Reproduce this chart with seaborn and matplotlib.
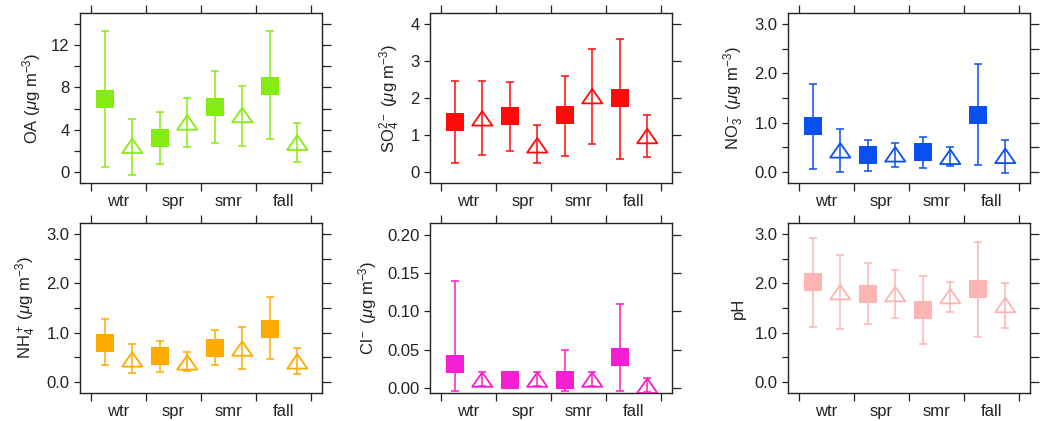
import numpy as np
import pandas as pd
import seaborn as sns
import matplotlib
matplotlib.use("Agg")
import matplotlib.pyplot as plt
from matplotlib.path import Path
from matplotlib.ticker import MultipleLocator, FormatStrFormatter, FixedLocator, NullFormatter, FixedFormatter

seasons = ["wtr", "spr", "smr", "fall"]

# filled squares: mean, upper, lower
oa_sq = [6.9, 3.2, 6.2, 8.1]
oa_sq_hi = [13.35, 5.7, 9.55, 13.3]
oa_sq_lo = [0.5, 0.8, 2.8, 3.1]
# open triangles
oa_tr = [2.5, 4.7, 5.4, 2.8]
oa_tr_hi = [5.0, 7.0, 8.1, 4.65]
oa_tr_lo = [-0.25, 2.4, 2.5, 1.0]

so4_sq = [1.34, 1.51, 1.53, 1.99]
so4_sq_hi = [2.46, 2.44, 2.6, 3.6]
so4_sq_lo = [0.23, 0.57, 0.44, 0.34]
so4_tr = [1.45, 0.72, 2.05, 0.97]
so4_tr_hi = [2.46, 1.26, 3.33, 1.55]
so4_tr_lo = [0.45, 0.23, 0.76, 0.4]

no3_sq = [0.94, 0.34, 0.40, 1.16]
no3_sq_hi = [1.78, 0.65, 0.72, 2.19]
no3_sq_lo = [0.07, 0.03, 0.09, 0.14]
no3_tr = [0.44, 0.36, 0.31, 0.33]
no3_tr_hi = [0.88, 0.58, 0.51, 0.66]
no3_tr_lo = [0.0, 0.11, 0.13, -0.01]

nh4_sq = [0.80, 0.52, 0.69, 1.08]
nh4_sq_hi = [1.28, 0.83, 1.05, 1.72]
nh4_sq_lo = [0.35, 0.2, 0.35, 0.46]
nh4_tr = [0.46, 0.40, 0.68, 0.42]
nh4_tr_hi = [0.78, 0.61, 1.12, 0.69]
nh4_tr_lo = [0.19, 0.22, 0.26, 0.17]

cl_sq = [0.031, 0.011, 0.011, 0.040]
cl_sq_hi = [0.14, 0.015, 0.05, 0.11]
cl_sq_lo = [-0.004, 0.007, -0.004, -0.004]
cl_tr = [0.011, 0.011, 0.011, 0.003]
cl_tr_hi = [0.021, 0.021, 0.021, 0.013]
cl_tr_lo = [0.002, 0.002, 0.002, -0.005]

ph_sq = [2.02, 1.79, 1.46, 1.89]
ph_sq_hi = [2.91, 2.41, 2.14, 2.84]
ph_sq_lo = [1.12, 1.18, 0.78, 0.92]
ph_tr = [1.82, 1.78, 1.74, 1.56]
ph_tr_hi = [2.57, 2.26, 2.03, 2.0]
ph_tr_lo = [1.07, 1.3, 1.41, 1.1]

panels = [
    (r"OA ($\mu$g m$^{-3}$)", "#84ec10", oa_sq, oa_sq_hi, oa_sq_lo, oa_tr, oa_tr_hi, oa_tr_lo,
     (-1, 15), 4, 2, "%d"),
    (r"SO$_4^{2-}$ ($\mu$g m$^{-3}$)", "#ff0a0a", so4_sq, so4_sq_hi, so4_sq_lo, so4_tr, so4_tr_hi, so4_tr_lo,
     (-0.3, 4.3), 1, None, "%d"),
    (r"NO$_3^-$ ($\mu$g m$^{-3}$)", "#0a50f0", no3_sq, no3_sq_hi, no3_sq_lo, no3_tr, no3_tr_hi, no3_tr_lo,
     (-0.22, 3.22), 1, 0.5, "%.1f"),
    (r"NH$_4^+$ ($\mu$g m$^{-3}$)", "#ffaa00", nh4_sq, nh4_sq_hi, nh4_sq_lo, nh4_tr, nh4_tr_hi, nh4_tr_lo,
     (-0.22, 3.22), 1, 0.5, "%.1f"),
    (r"Cl$^-$ ($\mu$g m$^{-3}$)", "#f51ed2", cl_sq, cl_sq_hi, cl_sq_lo, cl_tr, cl_tr_hi, cl_tr_lo,
     (-0.0065, 0.215), 0.05, None, "%.2f"),
    ("pH", "#ffb4b4", ph_sq, ph_sq_hi, ph_sq_lo, ph_tr, ph_tr_hi, ph_tr_lo,
     (-0.22, 3.22), 1, 0.5, "%.1f"),
]

sns.set_theme(style="ticks")
plt.rcParams["font.family"] = ["Liberation Sans", "DejaVu Sans"]
plt.rcParams["mathtext.fontset"] = "custom"
plt.rcParams["mathtext.rm"] = "Liberation Sans"
plt.rcParams["mathtext.it"] = "Liberation Sans:italic"
plt.rcParams["axes.linewidth"] = 1.0
plt.rcParams["axes.edgecolor"] = "#222222"

fig = plt.figure(figsize=(10.51, 4.21), dpi=100)
lefts = [80, 430, 788]
bottoms = [183, 393]
W, H = 242, 170

tri = Path([(-1, -0.72), (1, -0.72), (0, 0.72), (-1, -0.72)],
           [Path.MOVETO, Path.LINETO, Path.LINETO, Path.CLOSEPOLY])
off = 0.25
xs = np.arange(len(seasons))

for i, (lab, col, sq, sqh, sql, tr, trh, trl, ylim, major, minor, fmt) in enumerate(panels):
    r, c = divmod(i, 3)
    ax = fig.add_axes([lefts[c] / 1051, (421 - bottoms[r]) / 421, W / 1051, H / 421])

    df_sq = pd.DataFrame({"x": xs - off, "y": sq, "hi": sqh, "lo": sql})
    df_tr = pd.DataFrame({"x": xs + off, "y": tr, "hi": trh, "lo": trl})

    for df in (df_sq, df_tr):
        ax.errorbar(df["x"], df["y"], yerr=[df["y"] - df["lo"], df["hi"] - df["y"]],
                    fmt="none", ecolor=col, elinewidth=1.1, capsize=2.6, capthick=1.1, zorder=2)

    sns.scatterplot(data=df_sq, x="x", y="y", marker="s", s=150, color=col,
                    edgecolor=col, linewidth=0, ax=ax, zorder=3)
    sns.scatterplot(data=df_tr, x="x", y="y", marker=tri, s=210, color=col,
                    facecolor="none", edgecolor=col, linewidth=1.3, ax=ax, zorder=3)

    ax.set_xlim(-0.7, 3.7)
    ax.set_ylim(*ylim)
    ax.xaxis.set_major_locator(FixedLocator([-0.5, 0.5, 1.5, 2.5, 3.5]))
    ax.xaxis.set_major_formatter(NullFormatter())
    ax.xaxis.set_minor_locator(FixedLocator(list(xs)))
    ax.xaxis.set_minor_formatter(FixedFormatter(seasons))
    ax.tick_params(axis="x", which="major", direction="out", length=6, width=0.9,
                   top=True, bottom=True, color="#222222")
    ax.tick_params(axis="x", which="minor", length=0, pad=8, labelsize=12, labelcolor="#222222")

    ax.yaxis.set_major_locator(MultipleLocator(major))
    if minor:
        ax.yaxis.set_minor_locator(MultipleLocator(minor))
    ax.yaxis.set_major_formatter(FormatStrFormatter(fmt))
    ax.tick_params(axis="y", which="both", direction="out", length=4.5, width=0.9,
                   left=True, right=True, color="#222222")
    ax.tick_params(axis="y", which="major", labelsize=12, pad=3, labelcolor="#222222")
    # longer ticks on the right-hand side, as in the original
    for t in ax.yaxis.get_major_ticks() + ax.yaxis.get_minor_ticks():
        t.tick2line.set_markersize(6.5)

    ax.set_xlabel("")
    ax.set_ylabel(lab, fontsize=12, labelpad=6, color="#222222")

fig.savefig("out.png", dpi=100)
